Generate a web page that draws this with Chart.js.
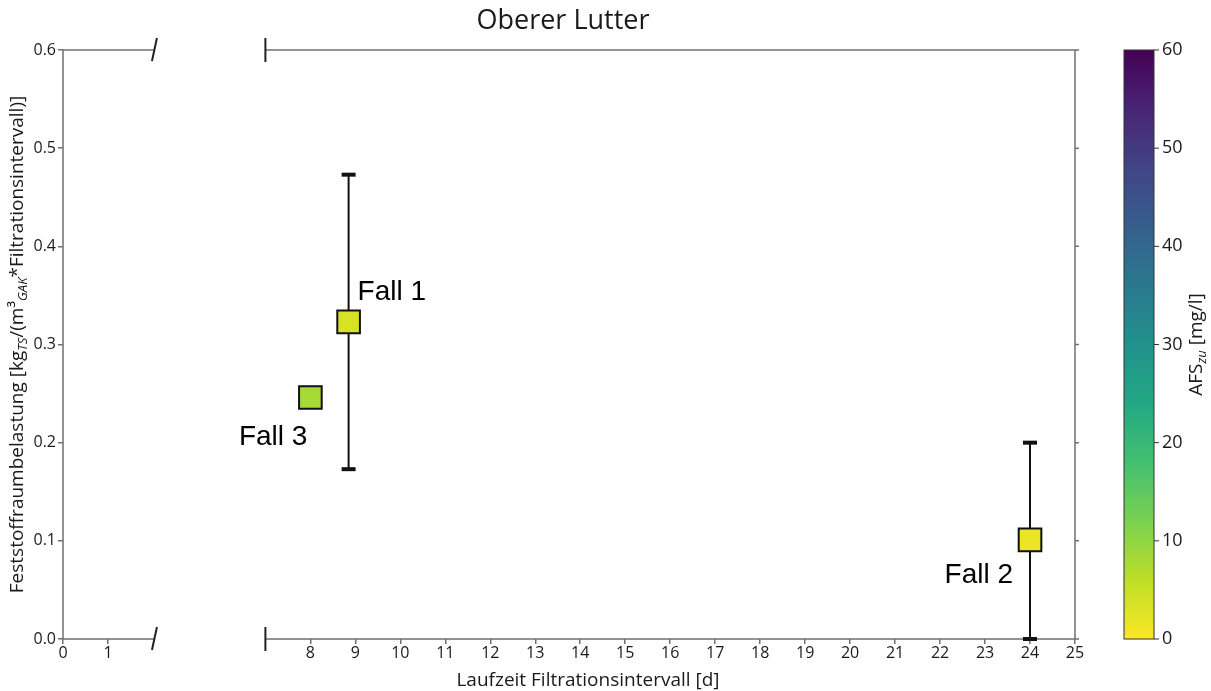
<!DOCTYPE html>
<html>
<head>
<meta charset="utf-8">
<script src="https://cdn.jsdelivr.net/npm/chart.js@4.4.1/dist/chart.umd.min.js"></script>
<style>
  html, body { margin:0; padding:0; background:#fff; }
  #wrap { width:1211px; height:691px; position:relative; }
</style>
</head>
<body>
<div id="wrap"><canvas id="chart" width="1211" height="691"></canvas></div>
<script>
// data
const faelle = ['Fall 1', 'Fall 2', 'Fall 3'];
const laufzeit = [8.85, 24.0, 8.0];          // d
const belastung = [0.323, 0.101, 0.246];     // kg_TS/(m3_GAK*Intervall)
const fehlerMin = [0.173, 0.0, null];
const fehlerMax = [0.473, 0.200, null];
const afsZu = [3.7, 1.7, 8.0];               // mg/l
const xTicks = [0, 1, 8, 9, 10, 11, 12, 13, 14, 15, 16, 17, 18, 19, 20, 21, 22, 23, 24, 25];
const yTicks = [0, 0.1, 0.2, 0.3, 0.4, 0.5, 0.6];
const cbTicks = [0, 10, 20, 30, 40, 50, 60];
const cbMax = 60;

// broken x axis: 0..2 | gap | 7..25
const BREAK_L = 2, BREAK_R = 7, GAP = 2.5;
function mapX(x){ return x <= BREAK_L ? x : x - BREAK_R + BREAK_L + GAP; }
function unmapX(v){ return v <= BREAK_L + 0.01 ? v : v + BREAK_R - BREAK_L - GAP; }

const VIRIDIS = ['#440154','#482475','#414487','#355f8d','#2a788e','#21918c','#22a884','#44bf70','#7ad151','#bddf26','#fde725'];
function hex2rgb(h){ return [parseInt(h.slice(1,3),16), parseInt(h.slice(3,5),16), parseInt(h.slice(5,7),16)]; }
function viridis(t){
  t = Math.max(0, Math.min(1, t));
  const p = t * (VIRIDIS.length - 1), i = Math.min(Math.floor(p), VIRIDIS.length - 2), f = p - i;
  const a = hex2rgb(VIRIDIS[i]), b = hex2rgb(VIRIDIS[i+1]);
  return `rgb(${a.map((c,k) => Math.round(c + (b[k]-c)*f)).join(',')})`;
}
// reversed colormap: 0 = yellow, 60 = purple
function afsColor(v){ return viridis(1 - v / cbMax); }

const FONT = '"Open Sans", "DejaVu Sans", sans-serif';
const SPINE = '#707070';

function drawMixed(ctx, parts, size, subSize){
  let total = 0;
  parts.forEach(p => {
    ctx.font = p[1] ? `italic ${subSize}px ${FONT}` : `${size}px ${FONT}`;
    total += ctx.measureText(p[0]).width;
  });
  let x = -total / 2;
  ctx.textBaseline = 'middle';
  ctx.textAlign = 'left';
  parts.forEach(p => {
    ctx.font = p[1] ? `italic ${subSize}px ${FONT}` : `${size}px ${FONT}`;
    ctx.fillText(p[0], x, p[1] ? 5 : 0);
    x += ctx.measureText(p[0]).width;
  });
}

const decorPlugin = {
  id: 'decor',
  beforeDatasetsDraw(chart){
    const { ctx, chartArea: a, scales: { x, y } } = chart;
    const xl = x.getPixelForValue(mapX(BREAK_L)) + 1, xr = x.getPixelForValue(mapX(BREAK_R));
    ctx.save();
    ctx.strokeStyle = SPINE;
    ctx.lineWidth = 1.5;
    ctx.beginPath();
    [a.top, a.bottom].forEach(yy => {
      ctx.moveTo(a.left, yy); ctx.lineTo(xl, yy);
      ctx.moveTo(xr, yy); ctx.lineTo(a.right, yy);
    });
    ctx.moveTo(a.left, a.top); ctx.lineTo(a.left, a.bottom);
    ctx.moveTo(a.right, a.top); ctx.lineTo(a.right, a.bottom);
    // mirrored ticks on the right spine
    yTicks.forEach(v => { const py = y.getPixelForValue(v); ctx.moveTo(a.right, py); ctx.lineTo(a.right + 4, py); });
    ctx.stroke();
    // break marks
    ctx.strokeStyle = '#222';
    ctx.lineWidth = 2;
    ctx.beginPath();
    [a.top, a.bottom].forEach(yy => {
      ctx.moveTo(xl - 2, yy + 11); ctx.lineTo(xl + 3, yy - 12);
      ctx.moveTo(xr, yy - 12); ctx.lineTo(xr, yy + 12);
    });
    ctx.stroke();
    ctx.restore();
  },
  afterDraw(chart){
    const { ctx, chartArea: a, scales: { x, y } } = chart;
    ctx.save();
    // title
    ctx.fillStyle = '#1a1a1a';
    ctx.font = `27px ${FONT}`;
    ctx.textAlign = 'center';
    ctx.textBaseline = 'middle';
    ctx.fillText('Oberer Lutter', (a.left + a.right) / 2 - 6, 21);
    // x title
    ctx.font = `19px ${FONT}`;
    ctx.fillText('Laufzeit Filtrationsintervall [d]', (a.left + a.right) / 2 + 19, 681);
    // y title
    ctx.save();
    ctx.translate(18, (a.top + a.bottom) / 2);
    ctx.rotate(-Math.PI / 2);
    drawMixed(ctx, [['Feststoffraumbelastung [kg', 0], ['TS', 1], ['/(m³', 0], ['GAK', 1], ['*Filtrationsintervall)]', 0]], 19, 13);
    ctx.restore();

    // annotations next to each case
    ctx.font = '28px "Liberation Sans", Arial, sans-serif';
    ctx.fillStyle = '#000';
    ctx.textBaseline = 'middle';
    const offs = { 'Fall 1': [9, -30, 'left'], 'Fall 2': [-17, 35, 'right'], 'Fall 3': [-3, 40, 'right'] };
    faelle.forEach((f, i) => {
      const px = x.getPixelForValue(mapX(laufzeit[i])), py = y.getPixelForValue(belastung[i]);
      const o = offs[f];
      ctx.textAlign = o[2];
      ctx.fillText(f, px + o[0], py + o[1]);
    });

    // colorbar
    const cbL = 1124, cbR = 1154, cbT = a.top, cbB = a.bottom;
    const g = ctx.createLinearGradient(0, cbB, 0, cbT);
    for (let k = 0; k <= 20; k++) g.addColorStop(k / 20, afsColor(cbMax * k / 20));
    ctx.fillStyle = g;
    ctx.fillRect(cbL, cbT, cbR - cbL, cbB - cbT);
    ctx.strokeStyle = '#333';
    ctx.lineWidth = 1;
    ctx.strokeRect(cbL, cbT, cbR - cbL, cbB - cbT);
    ctx.fillStyle = '#1a1a1a';
    ctx.font = `18px ${FONT}`;
    ctx.textAlign = 'left';
    ctx.textBaseline = 'middle';
    ctx.beginPath();
    cbTicks.forEach(v => {
      const py = cbB - (cbB - cbT) * v / cbMax;
      ctx.moveTo(cbR, py); ctx.lineTo(cbR + 5, py);
      ctx.fillText(String(v), cbR + 8, py);
    });
    ctx.stroke();
    ctx.save();
    ctx.translate(1197, (cbT + cbB) / 2);
    ctx.rotate(-Math.PI / 2);
    drawMixed(ctx, [['AFS', 0], ['zu', 1], [' [mg/l]', 0]], 19, 13);
    ctx.restore();
    ctx.restore();
  }
};

const points = faelle.map((f, i) => ({ x: mapX(laufzeit[i]), y: belastung[i] }));
const errorSets = faelle.map((f, i) => fehlerMin[i] == null ? null : {
  type: 'line',
  label: f + ' Fehler',
  data: [{ x: mapX(laufzeit[i]), y: fehlerMin[i] }, { x: mapX(laufzeit[i]), y: fehlerMax[i] }],
  borderColor: '#111',
  borderWidth: 2,
  pointStyle: 'line',
  pointRadius: 7,
  pointBorderWidth: 4,
  pointBorderColor: '#111',
  order: 2,
  clip: false
}).filter(Boolean);

new Chart(document.getElementById('chart').getContext('2d'), {
  type: 'scatter',
  data: { datasets: [
    { label: 'Feststoffraumbelastung', data: points, pointStyle: 'rect', pointRadius: 16,
      backgroundColor: afsZu.map(afsColor), borderColor: '#111', borderWidth: 2, order: 1, clip: false },
    ...errorSets
  ]},
  options: {
    responsive: false,
    animation: false,
    layout: { padding: { top: 50, right: 136, left: 0, bottom: 0 } },
    plugins: { legend: { display: false }, tooltip: { enabled: false } },
    scales: {
      x: {
        type: 'linear', min: 0, max: mapX(25),
        afterFit: s => { s.height = 52; },
        afterBuildTicks: s => { s.ticks = xTicks.map(v => ({ value: mapX(v) })); },
        ticks: { font: { family: FONT, size: 16 }, color: '#1a1a1a', padding: 0, maxRotation: 0, autoSkip: false,
          callback: v => String(Math.round(unmapX(v))) },
        grid: { drawOnChartArea: false, drawTicks: true, tickLength: 5, color: SPINE, lineWidth: 1.5 },
        border: { display: false }
      },
      y: {
        min: 0, max: 0.6,
        afterFit: s => { s.width = 63; },
        afterBuildTicks: s => { s.ticks = yTicks.map(v => ({ value: v })); },
        ticks: { font: { family: FONT, size: 16 }, color: '#1a1a1a', padding: 2, callback: v => v.toFixed(1) },
        grid: { drawOnChartArea: false, drawTicks: true, tickLength: 5, color: SPINE, lineWidth: 1.5 },
        border: { display: false }
      }
    }
  },
  plugins: [decorPlugin]
});
</script>
</body>
</html>
